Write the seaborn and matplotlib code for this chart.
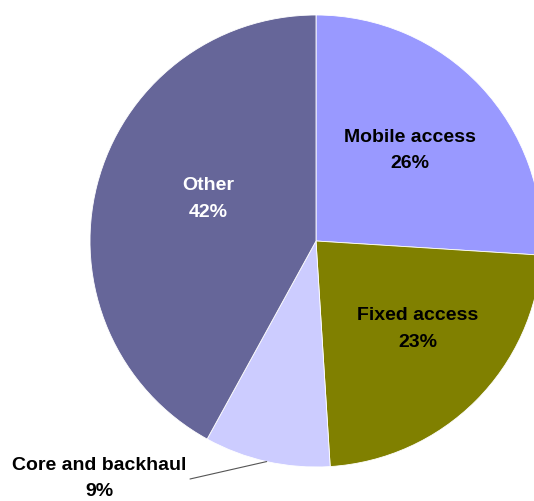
import numpy as np
import matplotlib
matplotlib.use("Agg")
import matplotlib.pyplot as plt
import seaborn as sns

# Share of spending by network segment
segments = ["Mobile access", "Fixed access", "Core and backhaul", "Other"]
shares = [26, 23, 9, 42]
colors = ["#9999FF", "#808000", "#CCCCFF", "#666699"]
text_colors = ["black", "black", "black", "white"]

sns.set_theme(style="white")
plt.rcParams["font.family"] = ["Liberation Sans", "DejaVu Sans"]

W, H = 534, 501
fig = plt.figure(figsize=(W / 100, H / 100), dpi=100)
ax = fig.add_axes([0, 0, 1, 1])
ax.set_aspect("equal")
ax.axis("off")

cx, cy, r = 316, 260, 226
wedges, _ = ax.pie(shares, colors=sns.color_palette(colors), startangle=90,
                   counterclock=False, center=(cx, cy), radius=r,
                   wedgeprops=dict(edgecolor="white", linewidth=0.6))
ax.set_xlim(0, W)
ax.set_ylim(0, H)

# label anchors (pixels from the top-left corner); None = outside label
label_pos = [(410, 150.5), (418, 329), None, (208, 199)]
fs = 14
start = 90.0
for seg, val, pos, tc in zip(segments, shares, label_pos, text_colors):
    mid = np.deg2rad(start - val * 360 / 100 / 2)
    start -= val * 360 / 100
    if pos is None:
        ex, ey = cx + r * np.cos(mid), cy + r * np.sin(mid)
        ax.plot([190, ex], [H - 479, ey], color="#555555", lw=0.8)
        ax.text(99, H - 465, seg, ha="center", va="center",
                fontsize=fs, fontweight="bold", color=tc)
        ax.text(99, H - 492, f"{val}%", ha="center", va="center",
                fontsize=fs, fontweight="bold", color=tc)
        continue
    ax.text(pos[0], H - pos[1], f"{seg}\n{val}%", ha="center", va="center",
            fontsize=fs, fontweight="bold", color=tc, linespacing=1.7)

fig.savefig("out.png", dpi=100)
